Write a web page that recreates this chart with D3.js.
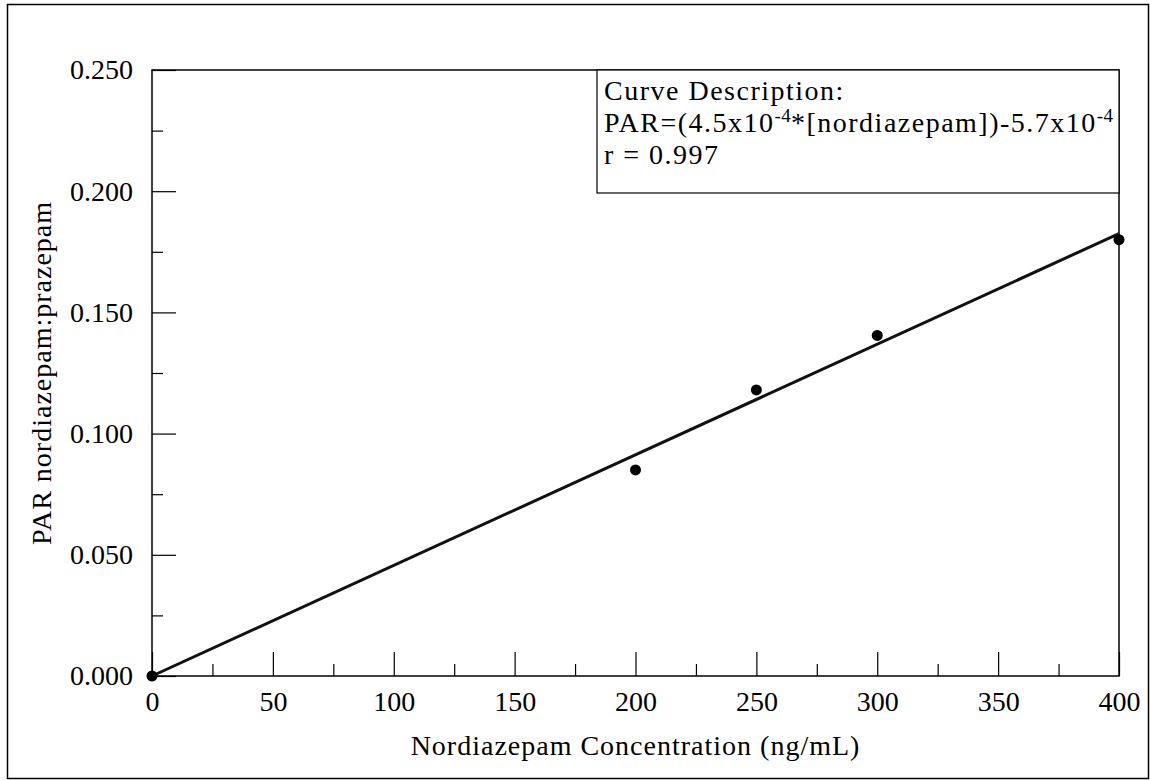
<!DOCTYPE html>
<html>
<head>
<meta charset="utf-8">
<script src="https://cdn.jsdelivr.net/npm/d3@7"></script>
<style>
  body { margin: 0; background: #fff; }
  svg text { fill: #000; }
</style>
</head>
<body>
<svg id="chart" width="1150" height="780"></svg>
<script>
// calibration points
const conc = [0, 200, 250, 300, 400];
const par = [0.0, 0.085, 0.118, 0.1405, 0.18];
// fitted line end points
const fitX = [0, 400];
const fitY = [0.0, 0.1825];
const xMajor = [0, 50, 100, 150, 200, 250, 300, 350, 400];
const xMinor = [25, 75, 125, 175, 225, 275, 325, 375];
const yMajor = [0, 0.05, 0.1, 0.15, 0.2, 0.25];
const yMinor = [0.025, 0.075, 0.125, 0.175, 0.225];
const legendLines = ["Curve Description:", "PAR=(4.5x10|-4|*[nordiazepam])-5.7x10|-4", "r = 0.997"];

const FONT = "'Liberation Serif', 'Times New Roman', serif";

function drawChart() {
    const svg = d3.select('#chart');
    const margin = {top: 70, right: 31, bottom: 104, left: 152};
    const width = +svg.attr("width") - margin.left - margin.right;
    const height = +svg.attr("height") - margin.top - margin.bottom;

    // outer frame
    svg.append('rect')
        .attr('x', 7.5).attr('y', 4.5)
        .attr('width', 1141).attr('height', 774)
        .attr('fill', 'none').attr('stroke', '#000').attr('stroke-width', 1.5);

    const g = svg.append('g')
        .attr('transform', `translate(${margin.left},${margin.top})`);

    const x = d3.scaleLinear().domain([0, 400]).range([0, width]);
    const y = d3.scaleLinear().domain([0, 0.25]).range([height, 0]);

    // minor ticks
    g.append('g')
        .attr('transform', `translate(0,${height})`)
        .call(d3.axisBottom(x).tickValues(xMinor).tickSize(-12).tickFormat(''))
        .call(a => a.select('.domain').remove())
        .call(a => a.selectAll('line').attr('stroke-width', 1.2));
    g.append('g')
        .call(d3.axisLeft(y).tickValues(yMinor).tickSize(-11).tickFormat(''))
        .call(a => a.select('.domain').remove())
        .call(a => a.selectAll('line').attr('stroke-width', 1.2));

    // major ticks + labels
    g.append('g')
        .attr('transform', `translate(0,${height})`)
        .call(d3.axisBottom(x).tickValues(xMajor).tickSize(-24).tickPadding(15))
        .attr('font-family', FONT).attr('font-size', 28)
        .call(a => a.select('.domain').remove())
        .call(a => a.selectAll('line').attr('stroke-width', 1.2));
    g.append('g')
        .call(d3.axisLeft(y).tickValues(yMajor).tickSize(-24).tickPadding(19).tickFormat(d3.format('.3f')))
        .attr('font-family', FONT).attr('font-size', 28)
        .call(a => a.select('.domain').remove())
        .call(a => a.selectAll('line').attr('stroke-width', 1.2));

    // plot frame
    g.append('rect')
        .attr('width', width).attr('height', height)
        .attr('fill', 'none').attr('stroke', '#000').attr('stroke-width', 1.5);

    // legend box
    const lx = x(0) + 445, lw = width - 445, lh = 123;
    const leg = g.append('g');
    leg.append('rect')
        .attr('x', lx).attr('y', 0).attr('width', lw).attr('height', lh)
        .attr('fill', '#fff').attr('stroke', '#000').attr('stroke-width', 1.2);
    legendLines.forEach((line, i) => {
        const t = leg.append('text')
            .attr('x', lx + 7).attr('y', 30 + i * 32)
            .attr('font-family', FONT)
            .attr('font-size', 28)
            .attr('letter-spacing', 1.5);
        line.split('|').forEach((part, j) => {
            const sup = j % 2 === 1;
            t.append('tspan')
                .attr('dy', sup ? -10 : (j > 0 ? 10 : 0))
                .attr('font-size', sup ? 19 : 28)
                .attr('letter-spacing', sup ? 0.3 : 1.5)
                .text(part);
        });
    });

    // fitted line
    g.append('line')
        .attr('x1', x(fitX[0])).attr('y1', y(fitY[0]))
        .attr('x2', x(fitX[1])).attr('y2', y(fitY[1]))
        .attr('stroke', '#111').attr('stroke-width', 3);

    // data points
    g.selectAll('circle')
        .data(conc)
        .enter().append('circle')
        .attr('cx', (d, i) => x(d))
        .attr('cy', (d, i) => y(par[i]))
        .attr('r', 5.5)
        .attr('fill', '#000');

    // axis titles
    svg.append('text')
        .attr('x', margin.left + width / 2)
        .attr('y', 755)
        .attr('text-anchor', 'middle')
        .attr('font-family', FONT).attr('font-size', 28)
        .attr('letter-spacing', 1)
        .text('Nordiazepam Concentration (ng/mL)');

    svg.append('text')
        .attr('transform', 'rotate(-90)')
        .attr('x', -(margin.top + height / 2))
        .attr('y', 51)
        .attr('text-anchor', 'middle')
        .attr('font-family', FONT).attr('font-size', 28)
        .attr('letter-spacing', 1)
        .text('PAR nordiazepam:prazepam');
}

drawChart();
</script>
</body>
</html>
